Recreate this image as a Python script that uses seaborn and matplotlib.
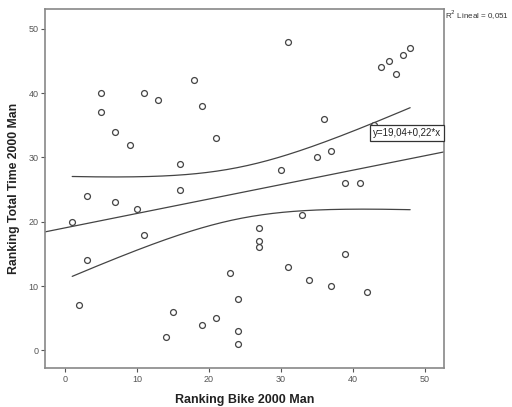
import numpy as np
import pandas as pd
import matplotlib
matplotlib.use("Agg")
import matplotlib.pyplot as plt
import seaborn as sns

bike_rank = [5, 5, 7, 9, 11, 13, 18, 19, 21, 16, 16, 3, 7, 31, 44, 45, 46, 47, 48, 36,
             43, 35, 37, 30, 39, 41, 10, 1, 11, 3, 2, 23, 24, 15, 21, 19, 24, 14, 24, 27,
             27, 27, 33, 39, 31, 34, 37, 42]
total_rank = [40, 37, 34, 32, 40, 39, 42, 38, 33, 29, 25, 24, 23, 48, 44, 45, 43, 46, 47, 36,
              35, 30, 31, 28, 26, 26, 22, 20, 18, 14, 7, 12, 8, 6, 5, 4, 3, 2, 1, 19,
              17, 16, 21, 15, 13, 11, 10, 9]
x_ticks = [0, 10, 20, 30, 40, 50]
y_ticks = [0, 10, 20, 30, 40, 50]
x_label = "Ranking Bike 2000 Man"
y_label = "Ranking Total Time 2000 Man"
eq_label = "y=19,04+0,22*x"
r2_label = "R$^2$ Lineal = 0,051"

df = pd.DataFrame({"bike": bike_rank, "total": total_rank})

sns.set_theme(style="white")
plt.rcParams["font.family"] = ["Liberation Sans", "DejaVu Sans"]

fig = plt.figure(figsize=(5.12, 4.07), dpi=100)
ax = fig.add_axes([0.0885, 0.0958, 0.7793, 0.8821])
ax.set_xlim(-2.74, 52.75)
ax.set_ylim(-2.75, 53.08)

line_col = "#444444"

# fitted line across full axis range
sns.regplot(data=df, x="bike", y="total", ax=ax, ci=None, scatter=False,
            truncate=False, line_kws=dict(color=line_col, lw=0.9, zorder=2))

# 95% mean confidence interval lines (analytic)
x = np.asarray(bike_rank, float)
y = np.asarray(total_rank, float)
n = len(x)
b1, b0 = np.polyfit(x, y, 1)
resid = y - (b0 + b1 * x)
s = np.sqrt(np.sum(resid ** 2) / (n - 2))
xs = np.linspace(x.min(), x.max(), 200)
t = 2.0129
se = s * np.sqrt(1 / n + (xs - x.mean()) ** 2 / np.sum((x - x.mean()) ** 2))
yfit = b0 + b1 * xs
ax.plot(xs, yfit + t * se, color=line_col, lw=0.9, zorder=2)
ax.plot(xs, yfit - t * se, color=line_col, lw=0.9, zorder=2)

sns.scatterplot(data=df, x="bike", y="total", ax=ax, s=18, facecolor="white",
                edgecolor="#444444", linewidth=0.9, zorder=3)

ax.set_xticks(x_ticks)
ax.set_yticks(y_ticks)
ax.tick_params(axis="both", labelsize=6.5, labelcolor="#555555", color="#555555",
               length=3, width=0.8, direction="out", bottom=True, left=True, pad=2)
for sp in ax.spines.values():
    sp.set_color("#888888")
    sp.set_linewidth(1.2)

ax.set_xlabel(x_label, fontsize=9, fontweight="bold", color="#222222", labelpad=7)
ax.set_ylabel(y_label, fontsize=8.8, fontweight="bold", color="#222222", labelpad=6)

ax.text(0.993, 0.6555, eq_label, transform=ax.transAxes, ha="right", va="center",
        fontsize=7, color="#222222", zorder=5,
        bbox=dict(boxstyle="square,pad=0.3", facecolor="white", edgecolor="#333333", lw=0.9))

fig.text(0.869, 0.962, r2_label, ha="left", va="center", fontsize=5.8, color="#333333")

fig.savefig("out.png", dpi=100)
